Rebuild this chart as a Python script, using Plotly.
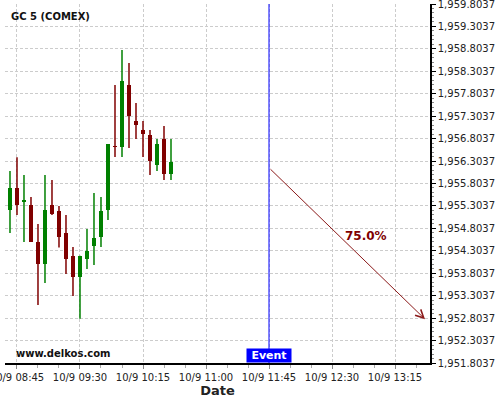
import plotly.graph_objects as go

times = ["2014-10-09 08:40", "2014-10-09 08:45", "2014-10-09 08:50", "2014-10-09 08:55",
         "2014-10-09 09:00", "2014-10-09 09:05", "2014-10-09 09:10", "2014-10-09 09:15",
         "2014-10-09 09:20", "2014-10-09 09:25", "2014-10-09 09:30", "2014-10-09 09:35",
         "2014-10-09 09:40", "2014-10-09 09:45", "2014-10-09 09:50", "2014-10-09 09:55",
         "2014-10-09 10:00", "2014-10-09 10:05", "2014-10-09 10:10", "2014-10-09 10:15",
         "2014-10-09 10:20", "2014-10-09 10:25", "2014-10-09 10:30", "2014-10-09 10:35"]
opens = [1955.205, 1955.711, 1955.413, 1955.317, 1954.506, 1954.001, 1955.317, 1955.198,
         1954.707, 1954.194, 1953.711, 1954.112, 1954.402, 1954.603, 1955.205, 1956.618,
         1956.611, 1958.008, 1957.205, 1957.004, 1956.893, 1956.209, 1956.796, 1956.008]
highs = [1956.083, 1956.387, 1955.993, 1955.503, 1954.900, 1955.993, 1955.882, 1955.302,
         1955.101, 1954.387, 1954.194, 1954.789, 1955.592, 1955.503, 1956.685, 1958.001,
         1958.781, 1958.491, 1957.599, 1957.198, 1956.997, 1956.796, 1957.086, 1956.796]
lows = [1954.700, 1955.101, 1954.499, 1954.499, 1953.094, 1953.584, 1955.100, 1954.380,
        1953.785, 1953.294, 1952.789, 1953.897, 1953.986, 1954.387, 1954.990, 1956.395,
        1956.395, 1956.596, 1956.796, 1956.395, 1955.993, 1956.083, 1955.882, 1955.882]
closes = [1955.711, 1955.317, 1955.413, 1954.506, 1954.001, 1955.205, 1955.116, 1954.603,
          1954.112, 1953.711, 1954.194, 1954.306, 1954.596, 1955.198, 1956.685, 1956.618,
          1958.097, 1957.302, 1957.101, 1956.900, 1956.298, 1956.692, 1956.008, 1956.291]

y_ticks = [1951.8037, 1952.3037, 1952.8037, 1953.3037, 1953.8037, 1954.3037, 1954.8037,
           1955.3037, 1955.8037, 1956.3037, 1956.8037, 1957.3037, 1957.8037, 1958.3037,
           1958.8037, 1959.3037, 1959.8037]
x_tickvals = ["2014-10-09 08:45", "2014-10-09 09:30", "2014-10-09 10:15", "2014-10-09 11:00",
              "2014-10-09 11:45", "2014-10-09 12:30", "2014-10-09 13:15"]
x_ticktext = ["10/9 08:45", "10/9 09:30", "10/9 10:15", "10/9 11:00",
              "10/9 11:45", "10/9 12:30", "10/9 13:15"]

event_time = "2014-10-09 11:45"
arrow_start = ("2014-10-09 11:45", 1956.154)
arrow_end = ("2014-10-09 13:36:26", 1952.780)
prob_label = "75.0%"

GREEN = "#008000"
RED = "#800000"

fig = go.Figure()

for col, up in ((GREEN, True), (RED, False)):
    wx, wy = [], []
    bx, bbase, bh = [], [], []
    for t, o, h, l, c in zip(times, opens, highs, lows, closes):
        is_up = c > o or (c == o and t in ("2014-10-09 08:50",))
        if is_up != up:
            continue
        wx += [t, t, None]
        wy += [l, h, None]
        bx.append(t)
        bbase.append(min(o, c))
        bh.append(max(abs(c - o), 0.02))
    fig.add_trace(go.Scatter(x=wx, y=wy, mode="lines", line=dict(color=col, width=1.5),
                             hoverinfo="skip", showlegend=False))
    fig.add_trace(go.Bar(x=bx, y=bh, base=bbase, width=214000, marker=dict(color=col, line=dict(width=0)),
                         showlegend=False))

fig.add_shape(type="line", x0=event_time, x1=event_time, xref="x", yref="paper", y0=0, y1=1,
              line=dict(color="blue", width=1))

fig.add_annotation(x=arrow_end[0], y=arrow_end[1], ax=arrow_start[0], ay=arrow_start[1],
                   xref="x", yref="y", axref="x", ayref="y", text="", showarrow=True,
                   arrowhead=5, arrowsize=1.6, arrowwidth=1, arrowcolor="#8B1A1A")
fig.add_annotation(x=0.849, xref="paper", xanchor="center", y=1954.63, yref="y", yanchor="middle",
                   text="<b>" + prob_label + "</b>",
                   showarrow=False, font=dict(family="DejaVu Sans", size=12, color="#800000"))

fig.add_annotation(x=event_time, xref="x", xanchor="center", y=0, yref="paper", yanchor="bottom",
                   text="<b>Event</b>", showarrow=False, bgcolor="blue", borderpad=0,
                   width=44, height=13,
                   font=dict(family="DejaVu Sans", size=11, color="white"))

fig.add_annotation(x=0.01, xref="paper", y=0.985, yref="paper", xanchor="left", yanchor="top",
                   text="<b>GC 5 (COMEX)</b>", showarrow=False,
                   font=dict(family="DejaVu Sans", size=10, color="#111111"))

fig.add_annotation(x=0.02, xref="paper", y=0.005, yref="paper", xanchor="left", yanchor="bottom",
                   text="<b>www.delkos.com</b>", showarrow=False,
                   font=dict(family="DejaVu Sans", size=10, color="#111111"))

fig.update_layout(
    width=500, height=400,
    margin=dict(l=5, r=70, t=4, b=37, autoexpand=False),
    paper_bgcolor="white", plot_bgcolor="white",
    font=dict(family="DejaVu Sans", size=10, color="#222222"),
    bargap=0,
    xaxis=dict(type="date", range=["2014-10-09 08:36:26", "2014-10-09 13:40"],
               tickvals=x_tickvals, ticktext=x_ticktext, ticks="outside", ticklen=4,
               tickcolor="#888888", automargin=False, ticklabeloverflow="allow",
               showgrid=True, gridcolor="#cccccc", griddash="3px,2px", gridwidth=1,
               showline=True, linecolor="black", linewidth=1.5, zeroline=False,
               title=dict(text="<b>Date</b>", font=dict(size=13, color="#222222"), standoff=2),
               minor=dict(dtick=15 * 60 * 1000, ticks="outside", ticklen=3, tickcolor="#aaaaaa",
                          showgrid=False),
               fixedrange=True),
    yaxis=dict(side="right", range=[1951.8037, 1959.8037], tickvals=y_ticks,
               tickformat=",.4f", ticks="outside", ticklen=4, tickcolor="black",
               automargin=False, ticklabeloverflow="allow",
               showgrid=True, gridcolor="#cccccc", griddash="3px,2px", gridwidth=1,
               showline=True, linecolor="black", linewidth=1.5, zeroline=False,
               minor=dict(tickvals=[round(1951.8037 + 0.1 * i, 4) for i in range(81)],
                          ticks="outside", ticklen=2, tickcolor="#888888", showgrid=False),
               fixedrange=True),
)

fig.write_html("out.html", config={"displayModeBar": False},
               post_script="document.body.style.margin='0';document.body.style.overflow='hidden';")
